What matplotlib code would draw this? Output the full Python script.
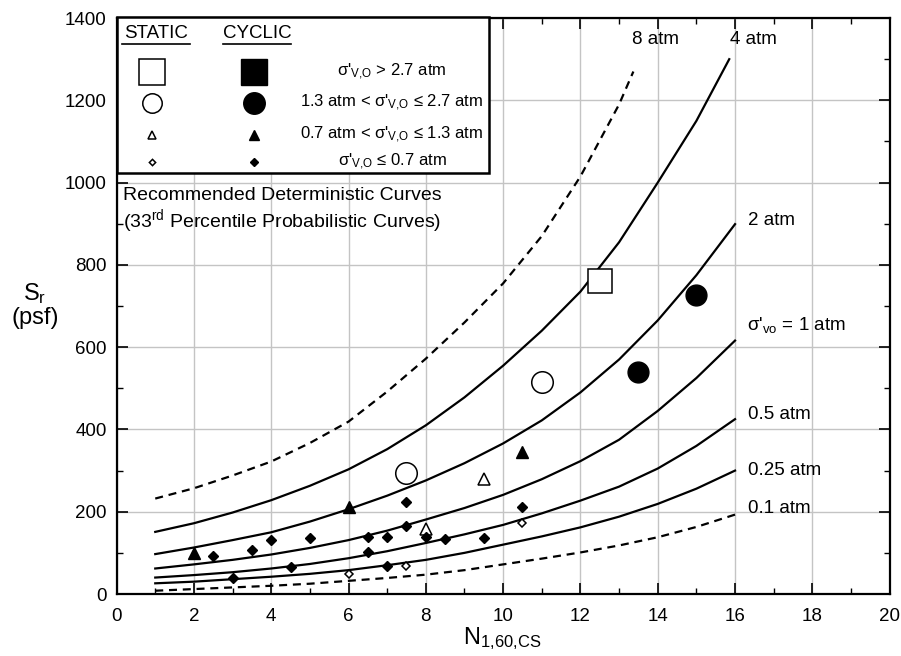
import matplotlib
matplotlib.use("Agg")
import matplotlib.pyplot as plt
from matplotlib.patches import Rectangle
from matplotlib.ticker import MultipleLocator

plt.rcParams["font.family"] = ["Liberation Sans", "DejaVu Sans"]
plt.rcParams["mathtext.fontset"] = "custom"
plt.rcParams["mathtext.rm"] = "Liberation Sans"
plt.rcParams["mathtext.it"] = "Liberation Sans:italic"

# ── curves (N1,60,CS vs Sr in psf) ────────────────────────────────────────
N_16 = [1, 2, 3, 4, 5, 6, 7, 8, 9, 10, 11, 12, 13, 14, 15, 16]

N_8ATM = [1, 2, 3, 4, 5, 6, 7, 8, 9, 10, 11, 12, 13, 13.37]
S_8ATM = [232, 257, 288, 322, 367, 419, 492, 572, 660, 755, 870, 1015, 1190, 1270]

N_4ATM = [1, 2, 3, 4, 5, 6, 7, 8, 9, 10, 11, 12, 13, 14, 15, 15.85]
S_4ATM = [151, 172, 198, 228, 263, 303, 352, 410, 478, 555, 640, 735, 855, 1000, 1150, 1300]

S_2ATM = [97, 113, 131, 150, 176, 206, 239, 276, 318, 366, 422, 490, 570, 665, 775, 899]
S_1ATM = [62, 72, 83, 96, 112, 131, 154, 181, 209, 241, 279, 323, 375, 445, 525, 616]
S_05ATM = [40, 46, 53, 62, 73, 87, 104, 124, 145, 168, 196, 227, 261, 305, 360, 425]
S_025ATM = [26, 30, 36, 42, 49, 58, 70, 83, 100, 120, 140, 162, 188, 219, 256, 300]
S_01ATM = [8, 12, 16, 20, 25, 32, 39, 47, 58, 72, 86, 101, 118, 138, 163, 193]

# ── case history points ────────────────────────────────────────────────────
static_sq_n = [12.5]
static_sq_s = [762]
static_ci_n = [7.5, 11.0]
static_ci_s = [293, 516]
static_tr_n = [8.0, 9.5]
static_tr_s = [158, 279]
static_di_n = [6.0, 7.5, 10.5]
static_di_s = [48, 68, 173]

cyclic_ci_n = [13.5, 15.0]
cyclic_ci_s = [540, 727]
cyclic_tr_n = [2.0, 6.0, 10.5]
cyclic_tr_s = [99, 212, 344]
cyclic_di_n = [2.5, 3.0, 3.5, 4.0, 4.5, 5.0, 6.5, 6.5, 7.0, 7.0, 7.5, 7.5, 8.0, 8.5, 9.5, 10.5]
cyclic_di_s = [93, 40, 108, 131, 65, 137, 139, 103, 138, 68, 224, 165, 139, 134, 136, 212]

SIG = "σ'$_\\mathregular{V{,}O}$"
CURVE_LABELS = ["8 atm", "4 atm", "2 atm", "σ'$_\\mathregular{vo}$ = 1 atm",
                "0.5 atm", "0.25 atm", "0.1 atm"]
ROW_LABELS = [SIG + " > 2.7 atm",
              "1.3 atm < " + SIG + " ≤ 2.7 atm",
              "0.7 atm < " + SIG + " ≤ 1.3 atm",
              SIG + " ≤ 0.7 atm"]

GRID = "#c4c4c4"
LW = 1.6
DASH = (0, (3.6, 2.6))

fig = plt.figure(figsize=(9.01, 6.56), dpi=100)
ax = fig.add_axes([0.1294, 0.0945, 0.858, 0.878])

ax.set_xlim(0, 20)
ax.set_ylim(0, 1400)
ax.xaxis.set_major_locator(MultipleLocator(2))
ax.xaxis.set_minor_locator(MultipleLocator(1))
ax.yaxis.set_major_locator(MultipleLocator(200))
ax.yaxis.set_minor_locator(MultipleLocator(100))
ax.grid(True, which="major", color=GRID, lw=1.0, zorder=0)
ax.set_axisbelow(True)
ax.tick_params(which="both", direction="in", top=True, right=True, colors="black",
               labelsize=13.5)
ax.tick_params(which="major", length=8, width=1.2)
ax.tick_params(which="minor", length=4, width=1.0)
ax.tick_params(axis="x", pad=10)
ax.tick_params(axis="y", pad=7)
for sp in ax.spines.values():
    sp.set_linewidth(1.6)

# curves
ax.plot(N_8ATM, S_8ATM, color="black", lw=LW, ls=DASH, zorder=3)
ax.plot(N_4ATM, S_4ATM, color="black", lw=LW, zorder=3)
for s in (S_2ATM, S_1ATM, S_05ATM, S_025ATM):
    ax.plot(N_16, s, color="black", lw=LW, zorder=3)
ax.plot(N_16, S_01ATM, color="black", lw=LW, ls=DASH, zorder=3)

# curve labels
lab_pos = [(13.34, 1347), (15.87, 1347), (16.33, 909), (16.31, 654),
           (16.33, 437), (16.33, 301), (16.33, 209)]
for txt, (xx, yy) in zip(CURVE_LABELS, lab_pos):
    ax.text(xx, yy, txt, fontsize=13.5, ha="left", va="center", zorder=4)

# points
ew = 1.1
ax.plot(static_sq_n, static_sq_s, "s", ms=17, mfc="white", mec="black", mew=ew, zorder=5)
ax.plot(static_ci_n, static_ci_s, "o", ms=15.5, mfc="white", mec="black", mew=ew, zorder=5)
ax.plot(static_tr_n, static_tr_s, "^", ms=8.5, mfc="white", mec="black", mew=ew, zorder=5)
ax.plot(static_di_n, static_di_s, "D", ms=4.2, mfc="white", mec="black", mew=ew, zorder=5)
ax.plot(cyclic_ci_n, cyclic_ci_s, "o", ms=15, mfc="black", mec="black", zorder=5)
ax.plot(cyclic_tr_n, cyclic_tr_s, "^", ms=9, mfc="black", mec="black", zorder=5)
ax.plot(cyclic_di_n, cyclic_di_s, "D", ms=5.3, mfc="black", mec="black", zorder=5)

# legend box (hand built, like the original)
box = Rectangle((0, 0.731), 0.4818, 0.27, transform=ax.transAxes, facecolor="white",
                edgecolor="black", lw=1.8, zorder=6, clip_on=False)
ax.add_patch(box)
tr = ax.transAxes
for xc, head in [(0.051, "STATIC"), (0.1816, "CYCLIC")]:
    ax.text(xc, 0.974, head, transform=tr, fontsize=13.5, ha="center", va="center",
            zorder=7)
    ax.plot([xc - 0.044, xc + 0.044], [0.955, 0.955], transform=tr, color="black",
            lw=1.2, zorder=7, clip_on=False)

rows_y = [0.9068, 0.8524, 0.7969, 0.7505]
sym = [("s", 19, 19), ("o", 14, 15.5), ("^", 6, 7.5), ("D", 3.2, 4.2)]
for yy, (m, ms_o, ms_f), txt in zip(rows_y, sym, ROW_LABELS):
    ax.plot([0.0454], [yy], m, ms=ms_o, mfc="white", mec="black", mew=1.1,
            transform=tr, zorder=7, clip_on=False)
    ax.plot([0.1777], [yy], m, ms=ms_f, mfc="black", mec="black",
            transform=tr, zorder=7, clip_on=False)
    ax.text(0.3563, yy, txt, transform=tr, fontsize=12, ha="center", va="center",
            zorder=7)

ax.text(0.0083, 0.707,
        "Recommended Deterministic Curves\n(33$^{\\mathregular{rd}}$ Percentile Probabilistic Curves)",
        transform=tr, fontsize=14, ha="left", va="top", linespacing=1.15, zorder=4)

# axis titles
fig.text(0.0388, 0.535, "S$_\\mathregular{r}$\n(psf)", fontsize=17, ha="center",
         va="center", linespacing=1.1)
fig.text(0.557, 0.027, "N$_\\mathregular{1{,}60{,}CS}$", fontsize=17, ha="center",
         va="center")

fig.savefig("out.png", dpi=100, facecolor="white")
